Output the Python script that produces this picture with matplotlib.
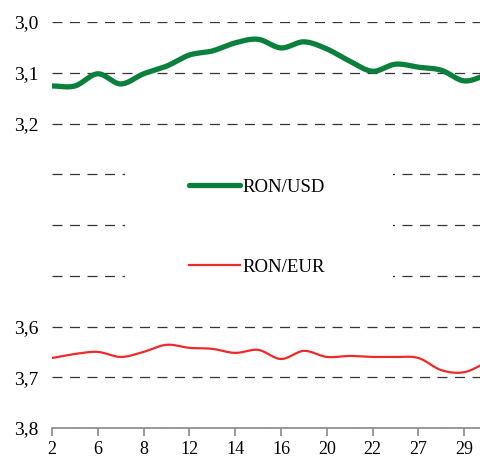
import numpy as np
import matplotlib
matplotlib.use('Agg')
import matplotlib.pyplot as plt
from matplotlib.patches import Rectangle

# zile lucratoare (decembrie)
zile = ['2', '5', '6', '7', '8', '9', '12', '13', '14', '15', '16',
        '19', '20', '21', '22', '23', '27', '28', '29', '30']
ron_usd = [3.126, 3.126, 3.102, 3.122, 3.102, 3.087, 3.065, 3.057, 3.041, 3.034,
           3.051, 3.039, 3.053, 3.077, 3.097, 3.083, 3.089, 3.095, 3.116, 3.104]
ron_eur = [3.662, 3.654, 3.650, 3.660, 3.650, 3.636, 3.642, 3.644, 3.652, 3.646,
           3.664, 3.648, 3.660, 3.658, 3.660, 3.660, 3.662, 3.686, 3.690, 3.670]
niveluri = [3.0, 3.1, 3.2, 3.3, 3.4, 3.5, 3.6, 3.7, 3.8]
etichete_y = ['3,0', '3,1', '3,2', '', '', '', '3,6', '3,7', '3,8']


def neted(x, y, n=16):
    # curba Catmull-Rom doar pentru desen
    x = np.asarray(x, float)
    y = np.asarray(y, float)
    px = np.concatenate([[2 * x[0] - x[1]], x, [2 * x[-1] - x[-2]]])
    py = np.concatenate([[2 * y[0] - y[1]], y, [2 * y[-1] - y[-2]]])
    xs, ys = [], []
    t = np.linspace(0, 1, n, endpoint=False)
    for i in range(1, len(px) - 2):
        for p, out in ((px, xs), (py, ys)):
            p0, p1, p2, p3 = p[i - 1], p[i], p[i + 1], p[i + 2]
            out.extend(0.5 * ((2 * p1) + (-p0 + p2) * t
                              + (2 * p0 - 5 * p1 + 4 * p2 - p3) * t ** 2
                              + (-p0 + 3 * p1 - 3 * p2 + p3) * t ** 3))
    xs.append(x[-1])
    ys.append(y[-1])
    return np.array(xs), np.array(ys)


plt.rcParams['font.family'] = ['Liberation Serif', 'DejaVu Serif']

fig = plt.figure(figsize=(4.8, 4.59), dpi=100)
ax = fig.add_axes([0.1083, 0.0675, 0.8917, 0.8845])

idx = np.arange(len(zile))
xu, yu = neted(idx, ron_usd)
xe, ye = neted(idx, ron_eur)
ax.plot(xu, yu, color='#0b7f3c', lw=3.8, solid_capstyle='round', zorder=3, label='RON/USD')
ax.plot(xe, ye, color='#ee2a2a', lw=1.6, zorder=3, label='RON/EUR')

ax.set_ylim(3.8, 3.0)
ax.set_xlim(0, 18.69)
ax.set_yticks(niveluri)
ax.set_yticklabels(etichete_y)
ax.set_xticks(idx[::2])
ax.set_xticklabels(zile[::2])

ax.set_axisbelow(True)
ax.yaxis.grid(True, color='#333333', lw=0.9, linestyle=(0, (8, 6)))
ax.add_patch(Rectangle((0.171, 0.315), 0.626, 0.37, transform=ax.transAxes,
                       facecolor='white', edgecolor='none', zorder=1))

for s in ['top', 'right', 'left']:
    ax.spines[s].set_visible(False)
ax.spines['bottom'].set_color('#888888')
ax.spines['bottom'].set_linewidth(1.2)
ax.spines['bottom'].set_zorder(0.6)
ax.tick_params(axis='y', length=0, pad=10, labelsize=14)
ax.tick_params(axis='x', length=6, width=1.2, color='#888888', pad=3, labelsize=13)

ax.legend(loc='center', bbox_to_anchor=(0.479, 0.494), frameon=False,
          fontsize=13.5, handlelength=2.7, handletextpad=0.15, labelspacing=3.35)

fig.savefig('out.png', dpi=100)
